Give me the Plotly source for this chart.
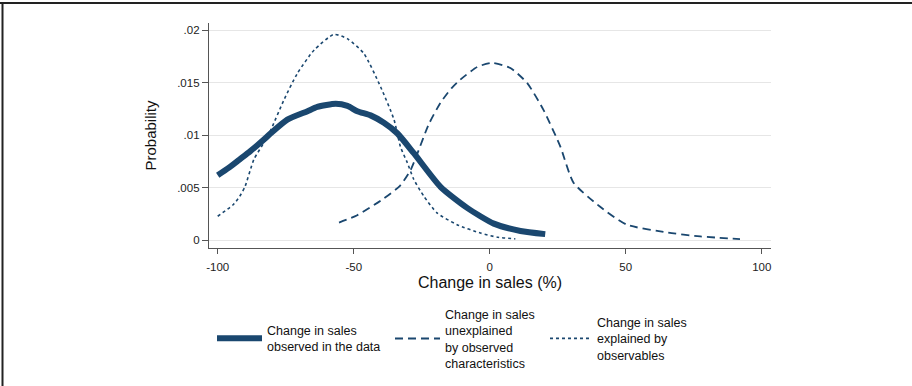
import plotly.graph_objects as go

# Observed change in sales (solid, thick)
obs_x = [-100, -96, -92, -88, -83, -80.5, -74.4, -67, -63.4, -56.6, -52.3, -48.7,
         -43.8, -38.9, -34, -27.9, -18.1, -8.3, 1.5, 11.3, 20.4]
obs_y = [0.0062, 0.0069, 0.0077, 0.0085, 0.0096, 0.0102, 0.0115, 0.0123, 0.0127,
         0.0130, 0.0128, 0.0123, 0.0119, 0.0112, 0.0102, 0.0083, 0.0051, 0.0031,
         0.0016, 0.0009, 0.0006]

# Unexplained by observed characteristics (dashed)
unexp_x = [-55.4, -48.7, -40, -33, -29.1, -26.7, -22.5, -18.1, -14, -10.8, -4.6, 0.9,
           7.6, 13.7, 19.8, 26, 30.8, 40.6, 50.4, 65.1, 77.4, 92]
unexp_y = [0.0017, 0.0024, 0.0038, 0.0052, 0.0067, 0.0082, 0.0110, 0.0131, 0.0145,
           0.0153, 0.0165, 0.0169, 0.0164, 0.0150, 0.0124, 0.0089, 0.0055, 0.0032,
           0.0015, 0.00076, 0.00038, 0.00013]

# Explained by observables (dotted)
expl_x = [-100, -94.3, -91.9, -90, -86.7, -82.3, -80.5, -75.6, -70.7, -64.6, -57.3,
          -52.4, -46.3, -40.1, -35.2, -32.8, -30.3, -27.9, -24.2, -19.3, -12, -3.4,
          3, 9.4]
expl_y = [0.0023, 0.0034, 0.0042, 0.0051, 0.0077, 0.0096, 0.0105, 0.0134, 0.0159,
          0.0181, 0.0196, 0.0192, 0.0178, 0.0146, 0.0115, 0.0089, 0.0074, 0.0058,
          0.0042, 0.0026, 0.0015, 0.0007, 0.0003, 0.00015]

x_tickvals = [-100, -50, 0, 50, 100]
x_ticktext = ["-100", "-50", "0", "50", "100"]
y_tickvals = [0, 0.005, 0.01, 0.015, 0.02]
y_ticktext = ["0", ".005", ".01", ".015", ".02"]

NAVY = "#1a476f"
FONT = "Liberation Sans, Arial, sans-serif"

fig = go.Figure()
fig.add_trace(go.Scatter(x=obs_x, y=obs_y, mode="lines", legend="legend",
                         name="Change in sales<br>observed in the data",
                         line=dict(color=NAVY, width=6, shape="spline", smoothing=0.6)))
fig.add_trace(go.Scatter(x=unexp_x, y=unexp_y, mode="lines", legend="legend2",
                         name="Change in sales<br>unexplained<br>by observed<br>characteristics",
                         line=dict(color=NAVY, width=1.8, dash="8px,5px", shape="spline", smoothing=0.6)))
fig.add_trace(go.Scatter(x=expl_x, y=expl_y, mode="lines", legend="legend3",
                         name="Change in sales<br>explained by<br>observables",
                         line=dict(color=NAVY, width=1.6, dash="dot", shape="spline", smoothing=0.6)))

PW, PH, L, B = 562, 225, 209, 248


def leg(px_left, width):
    return dict(orientation="v", x=(px_left - L) / PW, xanchor="left",
                y=(B - 338.5) / PH, yanchor="middle", valign="middle",
                font=dict(size=12.5, family=FONT, color="#111111"),
                itemwidth=width, bgcolor="rgba(0,0,0,0)")


fig.update_layout(
    width=912, height=386,
    margin=dict(l=209, r=141, t=23, b=138, autoexpand=False),
    paper_bgcolor="white", plot_bgcolor="white",
    font=dict(family=FONT, color="#222222", size=12),
    showlegend=True,
    legend=leg(212, 45),
    legend2=leg(390, 45),
    legend3=leg(545, 42),
    xaxis=dict(range=[-103.2, 103.4], tickvals=x_tickvals, ticktext=x_ticktext,
               showgrid=False, zeroline=False, showline=True, linecolor="#555555",
               linewidth=1.3, ticks="outside", ticklen=5, tickcolor="#555555",
               ticklabelstandoff=3, automargin=False,
               tickfont=dict(size=11.5, color="#222222"),
               title=dict(text="Change in sales (%)", font=dict(size=16, color="#111111"),
                          standoff=4)),
    yaxis=dict(range=[-0.00072, 0.02069], tickvals=y_tickvals, ticktext=y_ticktext,
               showgrid=True, gridcolor="#e6e6e6", gridwidth=1, zeroline=False,
               showline=True, linecolor="#555555", linewidth=1.3, ticks="outside",
               ticklen=6, tickcolor="#555555", automargin=False,
               tickfont=dict(size=11.5, color="#222222"),
               title=dict(text="Probability", font=dict(size=15, color="#111111"),
                          standoff=16)),
    shapes=[
        dict(type="line", xref="paper", yref="paper",
             x0=(0 - L) / PW, x1=(912 - L) / PW,
             y0=(B - 3) / PH, y1=(B - 3) / PH,
             line=dict(color="#222222", width=2)),
        dict(type="line", xref="paper", yref="paper",
             x0=(2.5 - L) / PW, x1=(2.5 - L) / PW,
             y0=(B - 2) / PH, y1=(B - 386) / PH,
             line=dict(color="#222222", width=2)),
    ],
)

fig.write_html("out.html")
